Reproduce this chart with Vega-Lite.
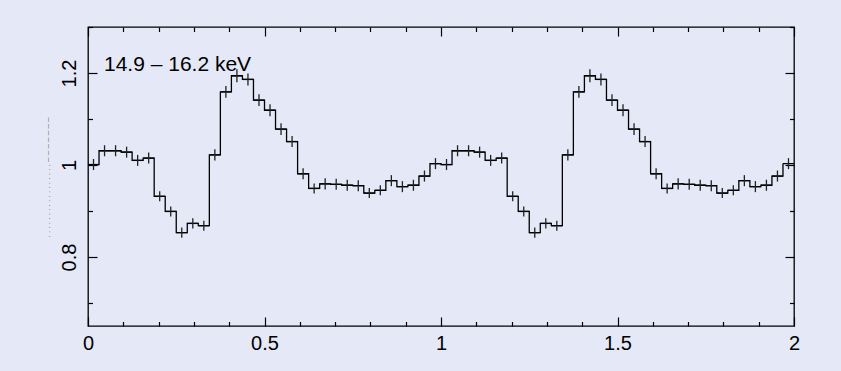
{
  "$schema": "https://vega.github.io/schema/vega-lite/v6.json",
  "width": 706,
  "height": 299,
  "autosize": {"type": "none"},
  "padding": {"left": 88, "top": 27, "right": 47, "bottom": 45},
  "background": "#e5e8f7",
  "title": {
    "text": "14.9 – 16.2 keV",
    "anchor": "start",
    "frame": "group",
    "orient": "top",
    "offset": -66,
    "dx": 16,
    "baseline": "alphabetic",
    "font": "Liberation Sans",
    "fontSize": 21,
    "fontWeight": "normal",
    "color": "black"
  },
  "data": {
    "values": [
      {"start": 0, "end": 0.03125, "phase": 0.015625, "rate": 1.001, "err": 0.012},
      {"start": 0.03125, "end": 0.0625, "phase": 0.046875, "rate": 1.031, "err": 0.012},
      {"start": 0.0625, "end": 0.09375, "phase": 0.078125, "rate": 1.031, "err": 0.012},
      {"start": 0.09375, "end": 0.125, "phase": 0.109375, "rate": 1.028, "err": 0.012},
      {"start": 0.125, "end": 0.15625, "phase": 0.140625, "rate": 1.010, "err": 0.012},
      {"start": 0.15625, "end": 0.1875, "phase": 0.171875, "rate": 1.015, "err": 0.012},
      {"start": 0.1875, "end": 0.21875, "phase": 0.203125, "rate": 0.932, "err": 0.011},
      {"start": 0.21875, "end": 0.25, "phase": 0.234375, "rate": 0.899, "err": 0.011},
      {"start": 0.25, "end": 0.28125, "phase": 0.265625, "rate": 0.853, "err": 0.011},
      {"start": 0.28125, "end": 0.3125, "phase": 0.296875, "rate": 0.873, "err": 0.011},
      {"start": 0.3125, "end": 0.34375, "phase": 0.328125, "rate": 0.868, "err": 0.011},
      {"start": 0.34375, "end": 0.375, "phase": 0.359375, "rate": 1.022, "err": 0.012},
      {"start": 0.375, "end": 0.40625, "phase": 0.390625, "rate": 1.159, "err": 0.013},
      {"start": 0.40625, "end": 0.4375, "phase": 0.421875, "rate": 1.194, "err": 0.014},
      {"start": 0.4375, "end": 0.46875, "phase": 0.453125, "rate": 1.186, "err": 0.013},
      {"start": 0.46875, "end": 0.5, "phase": 0.484375, "rate": 1.141, "err": 0.013},
      {"start": 0.5, "end": 0.53125, "phase": 0.515625, "rate": 1.119, "err": 0.013},
      {"start": 0.53125, "end": 0.5625, "phase": 0.546875, "rate": 1.078, "err": 0.013},
      {"start": 0.5625, "end": 0.59375, "phase": 0.578125, "rate": 1.051, "err": 0.012},
      {"start": 0.59375, "end": 0.625, "phase": 0.609375, "rate": 0.981, "err": 0.012},
      {"start": 0.625, "end": 0.65625, "phase": 0.640625, "rate": 0.949, "err": 0.011},
      {"start": 0.65625, "end": 0.6875, "phase": 0.671875, "rate": 0.959, "err": 0.012},
      {"start": 0.6875, "end": 0.71875, "phase": 0.703125, "rate": 0.958, "err": 0.012},
      {"start": 0.71875, "end": 0.75, "phase": 0.734375, "rate": 0.956, "err": 0.012},
      {"start": 0.75, "end": 0.78125, "phase": 0.765625, "rate": 0.955, "err": 0.012},
      {"start": 0.78125, "end": 0.8125, "phase": 0.796875, "rate": 0.939, "err": 0.011},
      {"start": 0.8125, "end": 0.84375, "phase": 0.828125, "rate": 0.945, "err": 0.011},
      {"start": 0.84375, "end": 0.875, "phase": 0.859375, "rate": 0.966, "err": 0.012},
      {"start": 0.875, "end": 0.90625, "phase": 0.890625, "rate": 0.953, "err": 0.012},
      {"start": 0.90625, "end": 0.9375, "phase": 0.921875, "rate": 0.956, "err": 0.012},
      {"start": 0.9375, "end": 0.96875, "phase": 0.953125, "rate": 0.976, "err": 0.012},
      {"start": 0.96875, "end": 1, "phase": 0.984375, "rate": 1.003, "err": 0.012},
      {"start": 1, "end": 1.03125, "phase": 1.015625, "rate": 1.001, "err": 0.012},
      {"start": 1.03125, "end": 1.0625, "phase": 1.046875, "rate": 1.031, "err": 0.012},
      {"start": 1.0625, "end": 1.09375, "phase": 1.078125, "rate": 1.031, "err": 0.012},
      {"start": 1.09375, "end": 1.125, "phase": 1.109375, "rate": 1.028, "err": 0.012},
      {"start": 1.125, "end": 1.15625, "phase": 1.140625, "rate": 1.010, "err": 0.012},
      {"start": 1.15625, "end": 1.1875, "phase": 1.171875, "rate": 1.015, "err": 0.012},
      {"start": 1.1875, "end": 1.21875, "phase": 1.203125, "rate": 0.932, "err": 0.011},
      {"start": 1.21875, "end": 1.25, "phase": 1.234375, "rate": 0.899, "err": 0.011},
      {"start": 1.25, "end": 1.28125, "phase": 1.265625, "rate": 0.853, "err": 0.011},
      {"start": 1.28125, "end": 1.3125, "phase": 1.296875, "rate": 0.873, "err": 0.011},
      {"start": 1.3125, "end": 1.34375, "phase": 1.328125, "rate": 0.868, "err": 0.011},
      {"start": 1.34375, "end": 1.375, "phase": 1.359375, "rate": 1.022, "err": 0.012},
      {"start": 1.375, "end": 1.40625, "phase": 1.390625, "rate": 1.159, "err": 0.013},
      {"start": 1.40625, "end": 1.4375, "phase": 1.421875, "rate": 1.194, "err": 0.014},
      {"start": 1.4375, "end": 1.46875, "phase": 1.453125, "rate": 1.186, "err": 0.013},
      {"start": 1.46875, "end": 1.5, "phase": 1.484375, "rate": 1.141, "err": 0.013},
      {"start": 1.5, "end": 1.53125, "phase": 1.515625, "rate": 1.119, "err": 0.013},
      {"start": 1.53125, "end": 1.5625, "phase": 1.546875, "rate": 1.078, "err": 0.013},
      {"start": 1.5625, "end": 1.59375, "phase": 1.578125, "rate": 1.051, "err": 0.012},
      {"start": 1.59375, "end": 1.625, "phase": 1.609375, "rate": 0.981, "err": 0.012},
      {"start": 1.625, "end": 1.65625, "phase": 1.640625, "rate": 0.949, "err": 0.011},
      {"start": 1.65625, "end": 1.6875, "phase": 1.671875, "rate": 0.959, "err": 0.012},
      {"start": 1.6875, "end": 1.71875, "phase": 1.703125, "rate": 0.958, "err": 0.012},
      {"start": 1.71875, "end": 1.75, "phase": 1.734375, "rate": 0.956, "err": 0.012},
      {"start": 1.75, "end": 1.78125, "phase": 1.765625, "rate": 0.955, "err": 0.012},
      {"start": 1.78125, "end": 1.8125, "phase": 1.796875, "rate": 0.939, "err": 0.011},
      {"start": 1.8125, "end": 1.84375, "phase": 1.828125, "rate": 0.945, "err": 0.011},
      {"start": 1.84375, "end": 1.875, "phase": 1.859375, "rate": 0.966, "err": 0.012},
      {"start": 1.875, "end": 1.90625, "phase": 1.890625, "rate": 0.953, "err": 0.012},
      {"start": 1.90625, "end": 1.9375, "phase": 1.921875, "rate": 0.956, "err": 0.012},
      {"start": 1.9375, "end": 1.96875, "phase": 1.953125, "rate": 0.976, "err": 0.012},
      {"start": 1.96875, "end": 2, "phase": 1.984375, "rate": 1.003, "err": 0.012}
    ]
  },
  "layer": [
    {
      "mark": {"type": "rule", "color": "black", "strokeWidth": 1.3},
      "encoding": {
        "x": {
          "field": "start", "type": "quantitative",
          "scale": {"domain": [0, 2], "nice": false, "zero": false},
          "axis": {
            "orient": "bottom", "title": null, "domain": false, "grid": false,
            "values": [0, 0.1, 0.2, 0.3, 0.4, 0.5, 0.6, 0.7, 0.8, 0.9, 1, 1.1, 1.2, 1.3, 1.4, 1.5, 1.6, 1.7, 1.8, 1.9, 2],
            "format": "~g",
            "labelExpr": "abs(datum.value * 2 - round(datum.value * 2)) < 1e-6 ? datum.label : ''",
            "tickSize": {"condition": {"test": "abs(datum.value * 2 - round(datum.value * 2)) < 1e-6", "value": -9}, "value": -4.5},
            "labelPadding": 16,
            "labelFlush": false, "labelOverlap": false, "labelBound": false
          }
        },
        "x2": {"field": "end"},
        "y": {
          "field": "rate", "type": "quantitative",
          "scale": {"domain": [0.65, 1.3], "nice": false, "zero": false},
          "axis": {
            "orient": "left", "domain": false, "grid": false,
            "title": ". . . . . . . . . . . . . . . . .  – – – – – – –",
            "titleFont": "Liberation Sans", "titleFontSize": 8, "titleFontWeight": "normal",
            "titleColor": "#666666", "titleAngle": 270,
            "titleX": -41, "titleY": 150, "titleAlign": "center", "titleBaseline": "middle",
            "values": [0.7, 0.8, 0.9, 1, 1.1, 1.2, 1.3],
            "format": "~g",
            "labelExpr": "abs(datum.value * 5 - round(datum.value * 5)) < 1e-6 ? datum.label : ''",
            "tickSize": {"condition": {"test": "abs(datum.value * 5 - round(datum.value * 5)) < 1e-6", "value": -9}, "value": -4.5},
            "labelAngle": 270, "labelAlign": "center", "labelBaseline": "alphabetic",
            "labelPadding": 22,
            "labelFlush": false, "labelOverlap": false, "labelBound": false
          }
        }
      }
    },
    {
      "mark": {"type": "line", "interpolate": "step-after", "color": "black", "strokeWidth": 1.3},
      "encoding": {
        "x": {
          "field": "start", "type": "quantitative",
          "scale": {"domain": [0, 2], "nice": false, "zero": false},
          "axis": {
            "orient": "top", "title": null, "domain": false, "grid": false, "labels": false,
            "values": [0, 0.1, 0.2, 0.3, 0.4, 0.5, 0.6, 0.7, 0.8, 0.9, 1, 1.1, 1.2, 1.3, 1.4, 1.5, 1.6, 1.7, 1.8, 1.9, 2],
            "tickSize": {"condition": {"test": "abs(datum.value * 2 - round(datum.value * 2)) < 1e-6", "value": -9}, "value": -4.5}
          }
        },
        "y": {
          "field": "rate", "type": "quantitative",
          "scale": {"domain": [0.65, 1.3], "nice": false, "zero": false},
          "axis": {
            "orient": "right", "title": null, "domain": false, "grid": false, "labels": false,
            "values": [0.7, 0.8, 0.9, 1, 1.1, 1.2, 1.3],
            "tickSize": {"condition": {"test": "abs(datum.value * 5 - round(datum.value * 5)) < 1e-6", "value": -9}, "value": -4.5}
          }
        }
      }
    },
    {
      "mark": {"type": "errorbar", "color": "#222222", "thickness": 1.3},
      "encoding": {
        "x": {"field": "phase", "type": "quantitative", "axis": null},
        "y": {"field": "rate", "type": "quantitative", "axis": null},
        "yError": {"field": "err"}
      }
    }
  ],
  "resolve": {"axis": {"x": "independent", "y": "independent"}},
  "config": {
    "view": {"stroke": "black", "strokeWidth": 1.3},
    "axis": {
      "tickColor": "black",
      "tickWidth": 1.2,
      "labelFont": "Liberation Sans",
      "labelFontSize": 20,
      "labelColor": "black"
    }
  }
}
